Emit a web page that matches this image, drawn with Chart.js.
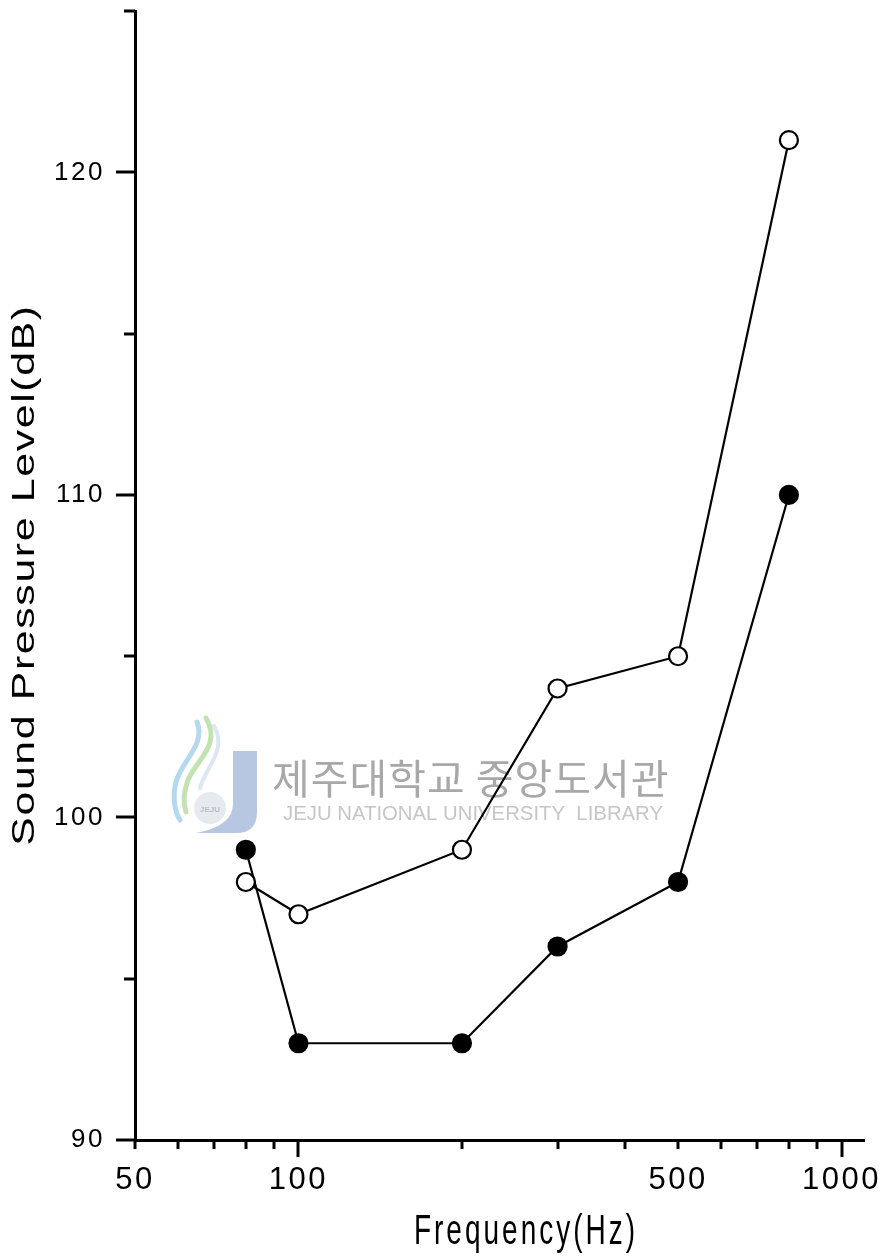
<!DOCTYPE html>
<html>
<head>
<meta charset="utf-8">
<script src="https://cdn.jsdelivr.net/npm/chart.js@4.4.1/dist/chart.umd.min.js"></script>
<style>
  html, body { margin: 0; padding: 0; background: #ffffff; }
  #wrap { width: 883px; height: 1257px; position: relative; }
  canvas { display: block; }
</style>
</head>
<body>
<div id="wrap"><canvas id="c" width="883" height="1257"></canvas></div>
<script>
// ---- data ----
const frequencies = [80, 100, 200, 300, 500, 800];          // Hz
const openCircleLevels = [98, 97, 99, 104, 105, 121];        // dB (open markers)
const filledCircleLevels = [99, 93, 93, 96, 98, 110];        // dB (filled markers)
const xTickLabels = [50, 100, 500, 1000];
const xMajorTicks = [100, 1000];
const xMinorTicks = [50, 60, 70, 80, 90, 200, 300, 400, 500, 600, 700, 800, 900];
const yTickLabels = [90, 100, 110, 120];
const yMinorTicks = [95, 105, 115, 125];
const xTitle = 'Frequency(Hz)';
const yTitle = 'Sound Pressure Level(dB)';
const watermarkKo = '제주대학교 중앙도서관';
const watermarkEn = 'JEJU NATIONAL UNIVERSITY  LIBRARY';

const openPoints = frequencies.map((f, i) => ({ x: f, y: openCircleLevels[i] }));
const filledPoints = frequencies.map((f, i) => ({ x: f, y: filledCircleLevels[i] }));

const FONT = '"Liberation Sans", Arial, sans-serif';

const decorPlugin = {
  id: 'decor',
  beforeDraw(chart) {
    chart.ctx.letterSpacing = '2.5px';
  },
  beforeDatasetsDraw(chart) {
    const ctx = chart.ctx;
    ctx.save();
    ctx.letterSpacing = '0px';
    // --- watermark logo (approximate) ---
    ctx.lineCap = 'round';
    ctx.strokeStyle = '#c3e2b2';
    ctx.lineWidth = 5;
    ctx.beginPath();
    ctx.moveTo(206, 718);
    ctx.bezierCurveTo(222, 745, 196, 760, 188, 780);
    ctx.bezierCurveTo(182, 796, 184, 806, 186, 812);
    ctx.stroke();
    ctx.strokeStyle = '#b3d8ef';
    ctx.lineWidth = 5;
    ctx.beginPath();
    ctx.moveTo(197, 722);
    ctx.bezierCurveTo(206, 745, 182, 760, 176, 782);
    ctx.bezierCurveTo(172, 798, 175, 812, 180, 820);
    ctx.stroke();
    ctx.strokeStyle = '#dbe7f3';
    ctx.lineWidth = 4;
    ctx.beginPath();
    ctx.moveTo(214, 726);
    ctx.bezierCurveTo(228, 750, 205, 768, 200, 788);
    ctx.stroke();
    ctx.fillStyle = '#b8c7e1';
    ctx.beginPath();
    ctx.moveTo(233, 751);
    ctx.lineTo(257, 751);
    ctx.lineTo(257, 812);
    ctx.quadraticCurveTo(257, 833, 236, 833);
    ctx.lineTo(196, 833);
    ctx.quadraticCurveTo(233, 826, 233, 804);
    ctx.closePath();
    ctx.fill();
    ctx.fillStyle = '#e6e9ee';
    ctx.beginPath();
    ctx.arc(210, 808, 16, 0, Math.PI * 2);
    ctx.fill();
    ctx.fillStyle = '#b8bec8';
    ctx.font = 'bold 8px ' + FONT;
    ctx.textAlign = 'center';
    ctx.textBaseline = 'middle';
    ctx.fillText('JEJU', 210, 810);
    // --- watermark text ---
    ctx.fillStyle = '#a8a8a8';
    ctx.font = '41px "Noto Sans CJK KR", sans-serif';
    ctx.textAlign = 'left';
    ctx.textBaseline = 'middle';
    ctx.letterSpacing = '1px';
    ctx.fillText(watermarkKo, 272, 778);
    ctx.letterSpacing = '0px';
    ctx.fillStyle = '#c6c6c6';
    ctx.font = '21px ' + FONT;
    const w = ctx.measureText(watermarkEn).width;
    ctx.save();
    ctx.translate(283, 814);
    ctx.scale(380 / w, 1);
    ctx.fillText(watermarkEn, 0, 0);
    ctx.restore();
    ctx.restore();
  },
  afterDraw(chart) {
    const ctx = chart.ctx;
    const xs = chart.scales.x;
    const ys = chart.scales.y;
    ctx.save();
    ctx.strokeStyle = '#000';
    ctx.lineWidth = 3;
    ctx.lineCap = 'butt';
    const bottom = ys.getPixelForValue(90);
    const left = xs.left;
    xMajorTicks.forEach(v => {
      const px = Math.round(xs.getPixelForValue(v));
      ctx.beginPath(); ctx.moveTo(px, bottom); ctx.lineTo(px, bottom + 17); ctx.stroke();
    });
    xMinorTicks.forEach(v => {
      const px = Math.round(xs.getPixelForValue(v));
      ctx.beginPath(); ctx.moveTo(px, bottom); ctx.lineTo(px, bottom + 9); ctx.stroke();
    });
    yTickLabels.forEach(v => {
      const py = Math.round(ys.getPixelForValue(v));
      ctx.beginPath(); ctx.moveTo(left, py); ctx.lineTo(left - 19, py); ctx.stroke();
    });
    yMinorTicks.forEach(v => {
      const py = Math.round(ys.getPixelForValue(v));
      ctx.beginPath(); ctx.moveTo(left, py); ctx.lineTo(left - 11, py); ctx.stroke();
    });
    // axis titles
    ctx.fillStyle = '#000';
    ctx.textAlign = 'center';
    ctx.textBaseline = 'middle';
    ctx.font = '28px ' + FONT;
    ctx.letterSpacing = '3px';
    ctx.save();
    ctx.translate(526, 1232);
    ctx.scale(1, 1.5);
    ctx.fillText(xTitle, 0, 0);
    ctx.restore();
    ctx.font = '31px ' + FONT;
    ctx.letterSpacing = '1.2px';
    ctx.save();
    ctx.translate(25, 575);
    ctx.rotate(-Math.PI / 2);
    ctx.scale(1.38, 1);
    ctx.fillText(yTitle, 0, 0);
    ctx.restore();
    ctx.restore();
  }
};

new Chart(document.getElementById('c'), {
  type: 'line',
  data: {
    datasets: [
      {
        label: 'open',
        data: openPoints,
        borderColor: '#000',
        borderWidth: 2.2,
        pointRadius: 9,
        pointHoverRadius: 9,
        pointBorderWidth: 2.2,
        pointBorderColor: '#000',
        pointBackgroundColor: '#fff',
        tension: 0,
        fill: false
      },
      {
        label: 'filled',
        data: filledPoints,
        borderColor: '#000',
        borderWidth: 2.2,
        pointRadius: 9,
        pointHoverRadius: 9,
        pointBorderWidth: 2.2,
        pointBorderColor: '#000',
        pointBackgroundColor: '#000',
        tension: 0,
        fill: false
      }
    ]
  },
  options: {
    responsive: false,
    devicePixelRatio: 1,
    animation: false,
    events: [],
    layout: { padding: { left: 0, right: 19, top: 11, bottom: 0 } },
    plugins: { legend: { display: false }, tooltip: { enabled: false } },
    scales: {
      x: {
        type: 'logarithmic',
        position: 'bottom',
        min: 50,
        max: 1100,
        grid: { display: false, drawTicks: false },
        border: { display: true, color: '#000', width: 3 },
        ticks: {
          color: '#000',
          font: { family: FONT, size: 31 },
          padding: 22,
          maxRotation: 0,
          autoSkip: false,
          callback: v => String(v)
        },
        afterBuildTicks: s => { s.ticks = xTickLabels.map(v => ({ value: v })); },
        afterFit: s => { s.height = 117; s.paddingLeft = 0; s.paddingRight = 0; }
      },
      y: {
        type: 'linear',
        position: 'left',
        min: 90,
        max: 125,
        grid: { display: false, drawTicks: false },
        border: { display: true, color: '#000', width: 3 },
        ticks: {
          color: '#000',
          font: { family: FONT, size: 26 },
          padding: 30,
          autoSkip: false,
          callback: v => String(v)
        },
        afterBuildTicks: s => { s.ticks = yTickLabels.map(v => ({ value: v })); },
        afterFit: s => { s.width = 135; s.paddingTop = 0; s.paddingBottom = 0; }
      }
    }
  },
  plugins: [decorPlugin]
});
</script>
</body>
</html>
